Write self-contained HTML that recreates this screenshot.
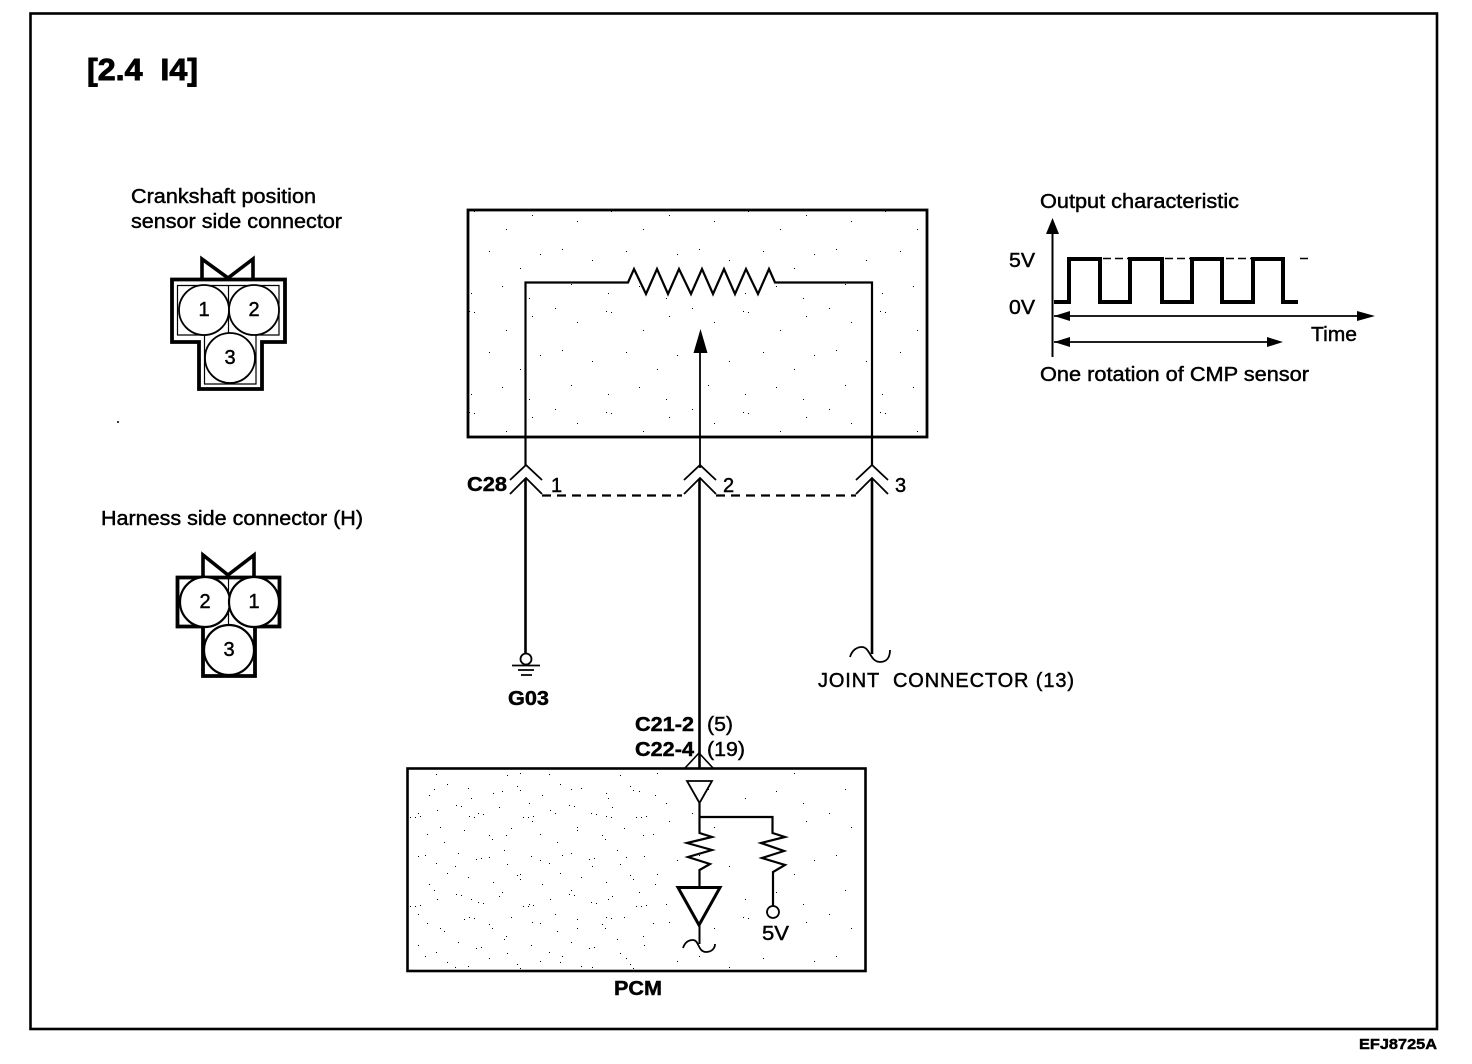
<!DOCTYPE html>
<html><head><meta charset="utf-8"><style>
html,body{margin:0;padding:0;background:#fff;width:1472px;height:1064px;overflow:hidden}
svg{display:block}
text{font-family:"Liberation Sans",sans-serif;fill:#000;stroke:#000;stroke-width:.45}
.b{font-weight:bold}
.n{font-size:20px}
</style></head><body>
<svg width="1472" height="1064" viewBox="0 0 1472 1064" xmlns="http://www.w3.org/2000/svg">
<defs>
<pattern id="d1" width="137" height="101" patternUnits="userSpaceOnUse"><path d="M7 5h1v1h-1zM29 19h1v1h-1zM58 8h1v1h-1zM63 9h1v1h-1zM95 27h1v1h-1zM121 13h1v1h-1zM14 47h1v1h-1zM44 58h1v1h-1zM78 49h1v1h-1zM109 66h1v1h-1zM129 52h1v1h-1zM23 82h1v1h-1zM60 91h1v1h-1zM91 84h1v1h-1zM118 96h1v1h-1z" fill="#000"/></pattern>
<pattern id="d2" width="113" height="89" patternUnits="userSpaceOnUse"><path d="M4 4h1v1h-1zM9 5h1v1h-1zM26 12h1v1h-1zM31 13h1v1h-1zM47 6h1v1h-1zM71 16h1v1h-1zM76 16h1v1h-1zM81 15h1v1h-1zM98 9h1v1h-1zM12 29h1v1h-1zM37 34h1v1h-1zM40 38h1v1h-1zM59 27h1v1h-1zM88 33h1v1h-1zM105 41h1v1h-1zM6 52h1v1h-1zM24 58h1v1h-1zM29 57h1v1h-1zM52 49h1v1h-1zM55 63h1v1h-1zM79 55h1v1h-1zM97 62h1v1h-1zM16 76h1v1h-1zM41 81h1v1h-1zM65 74h1v1h-1zM68 78h1v1h-1zM90 83h1v1h-1zM108 72h1v1h-1z" fill="#000"/></pattern>
</defs>
<rect width="1472" height="1064" fill="#fff"/>
<rect x="30.500" y="13.500" width="1406.500" height="1015.500" fill="none" stroke="#000" stroke-width="2.600"/>

<text class="b" x="87" y="80" font-size="31" textLength="111" lengthAdjust="spacingAndGlyphs" style="stroke-width:.9">[2.4&#160;&#160;I4]</text>

<!-- sensor side connector -->
<text class="n" x="131" y="203" textLength="185" lengthAdjust="spacingAndGlyphs">Crankshaft position</text>
<text class="n" x="131" y="228" textLength="211" lengthAdjust="spacingAndGlyphs">sensor side connector</text>
<path d="M202 279V259L228 278L253 259V279" fill="none" stroke="#000" stroke-width="3.600"/>
<path d="M172 279.500H285V342H262V389H199V342H172Z" fill="none" stroke="#000" stroke-width="3.800"/>
<path d="M177.500 285.500H279V335H256V384H204.500V335H177.500Z" fill="none" stroke="#000" stroke-width="1.200"/>
<path d="M228.500 285V335" stroke="#000" stroke-width="1.200"/>
<g fill="#fff" stroke="#000" stroke-width="1.800"><circle cx="204" cy="310" r="25"/><circle cx="254" cy="310" r="25"/><circle cx="230" cy="358" r="25"/></g>
<text class="n" x="204" y="316" text-anchor="middle">1</text>
<text class="n" x="254" y="316" text-anchor="middle">2</text>
<text class="n" x="230" y="364" text-anchor="middle">3</text>

<!-- harness side connector -->
<text class="n" x="101" y="525" textLength="262" lengthAdjust="spacingAndGlyphs">Harness side connector (H)</text>
<path d="M203 577V555L228 575L254 555V577" fill="none" stroke="#000" stroke-width="3.600"/>
<path d="M177.500 577.500H279.500V626.500H255V676H203V626.500H177.500Z" fill="none" stroke="#000" stroke-width="3.800"/>
<path d="M228.500 577V627" stroke="#000" stroke-width="1.200"/>
<g fill="#fff" stroke="#000" stroke-width="2.200"><circle cx="205" cy="602" r="25"/><circle cx="254" cy="602" r="25"/><circle cx="229" cy="650" r="25"/></g>
<text class="n" x="205" y="608" text-anchor="middle">2</text>
<text class="n" x="254" y="608" text-anchor="middle">1</text>
<text class="n" x="229" y="656" text-anchor="middle">3</text>

<!-- sensor box -->
<rect x="468" y="210" width="459" height="227" fill="url(#d1)" stroke="#000" stroke-width="2.800"/>
<path d="M525.500 465V282.500H628L634 269L646 294L657 269L668 294L679 269L691 294L702 269L713 294L724 269L735 294L746 269L758 294L769 269L775 282.500H872V465" fill="none" stroke="#000" stroke-width="2.200"/>
<path d="M700 350V468" stroke="#000" stroke-width="1.800"/>
<path d="M700.500 329L707.500 353H693.500Z" fill="#000"/>

<!-- connectors C28 -->
<g fill="none" stroke="#000" stroke-width="1.800">
<path d="M510 480L526 465L542 480M510 494L526 478L542 494"/>
<path d="M684 480L700 465L716 480M684 494L700 478L716 494"/>
<path d="M856 480L872 465L888 480M856 494L872 478L888 494"/>
</g>
<path d="M542 495.500H682M716 495.500H856" fill="none" stroke="#000" stroke-width="2.200" stroke-dasharray="9 6"/>
<path d="M525.500 479V653M699.500 479V768M872 479V654" fill="none" stroke="#000" stroke-width="2.600"/>
<text class="b n" x="467" y="491" textLength="40" lengthAdjust="spacingAndGlyphs">C28</text>
<text class="n" x="551" y="492">1</text>
<text class="n" x="723" y="492">2</text>
<text class="n" x="895" y="492">3</text>

<!-- ground -->
<circle cx="526" cy="659" r="5.500" fill="#fff" stroke="#000" stroke-width="1.800"/>
<path d="M512 665.500H540M518 670H534M521 675H532" stroke="#000" stroke-width="1.800"/>
<text class="b n" x="508" y="705" textLength="41" lengthAdjust="spacingAndGlyphs">G03</text>

<!-- joint -->
<path d="M850 657C852 650 857 647 862 647C870 647 870 662 880 662C887 662 890 657 890 650" fill="none" stroke="#000" stroke-width="1.800"/>
<text class="n" x="818" y="687" textLength="256" lengthAdjust="spacing">JOINT&#160;&#160;CONNECTOR (13)</text>

<!-- C21 C22 -->
<text class="b n" x="635" y="731" textLength="59" lengthAdjust="spacingAndGlyphs">C21-2</text>
<text class="n" x="707" y="731" textLength="26" lengthAdjust="spacingAndGlyphs">(5)</text>
<text class="b n" x="635" y="756" textLength="59" lengthAdjust="spacingAndGlyphs">C22-4</text>
<text class="n" x="707" y="756" textLength="38" lengthAdjust="spacingAndGlyphs">(19)</text>

<!-- PCM box -->
<rect x="407.500" y="768.500" width="458" height="202.500" fill="url(#d1)" stroke="#000" stroke-width="2.600"/>
<rect x="410" y="771" width="250" height="198" fill="url(#d2)"/>
<path d="M685 768L699 753L713 768" fill="none" stroke="#000" stroke-width="1.600"/>
<path d="M687 781H712L699.500 803Z" fill="#fff" stroke="#000" stroke-width="1.800"/>
<path d="M699.500 803V833L712 837L687 843L712 850L688 857L710 864L699.500 870V887" fill="none" stroke="#000" stroke-width="2.200"/>
<path d="M699.500 817H772.500V833L785 837L761 843L784 851L762 858L785 865L773 872V906" fill="none" stroke="#000" stroke-width="2.200"/>
<path d="M678 887.500H720L699 925Z" fill="#fff" stroke="#000" stroke-width="3"/>
<path d="M699.500 925V944" stroke="#000" stroke-width="2"/>
<path d="M683 948C685 942 689 940 693 940C699 940 698 952 706 952C711 952 715 949 715 944" fill="none" stroke="#000" stroke-width="1.800"/>
<circle cx="773" cy="912" r="6" fill="#fff" stroke="#000" stroke-width="1.800"/>
<text class="n" x="762" y="940" textLength="27" lengthAdjust="spacingAndGlyphs">5V</text>
<text class="b n" x="614" y="995" textLength="48" lengthAdjust="spacingAndGlyphs">PCM</text>

<!-- chart -->
<text class="n" x="1040" y="208" textLength="199" lengthAdjust="spacingAndGlyphs">Output characteristic</text>
<path d="M1052.500 232V357" stroke="#000" stroke-width="2"/>
<path d="M1052.500 218L1059 234H1046Z" fill="#000"/>
<text class="n" x="1009" y="267" textLength="26" lengthAdjust="spacingAndGlyphs">5V</text>
<text class="n" x="1009" y="314" textLength="26" lengthAdjust="spacingAndGlyphs">0V</text>
<path d="M1054 302H1069V259H1100V302H1130V259H1162V302H1192V259H1222V302H1253V259H1283V302H1298" fill="none" stroke="#000" stroke-width="4"/>
<path d="M1103 258.500H1128M1165 258.500H1190M1226 258.500H1251M1300 258.500H1312" stroke="#000" stroke-width="1.600" stroke-dasharray="8 4"/>
<path d="M1054 316H1372M1054 342H1280" stroke="#000" stroke-width="1.800"/>
<path d="M1054 316L1070 311V321ZM1375 316L1357 311V321ZM1054 342L1070 337V347ZM1283 342L1267 337V347Z" fill="#000"/>
<text class="n" x="1311" y="341" textLength="46" lengthAdjust="spacingAndGlyphs">Time</text>
<text class="n" x="1040" y="381" textLength="269" lengthAdjust="spacingAndGlyphs">One rotation of CMP sensor</text>

<circle cx="118" cy="422" r="1" fill="#000"/>
<text class="b" x="1359" y="1049" font-size="15" textLength="78" lengthAdjust="spacingAndGlyphs">EFJ8725A</text>
</svg>
</body></html>
